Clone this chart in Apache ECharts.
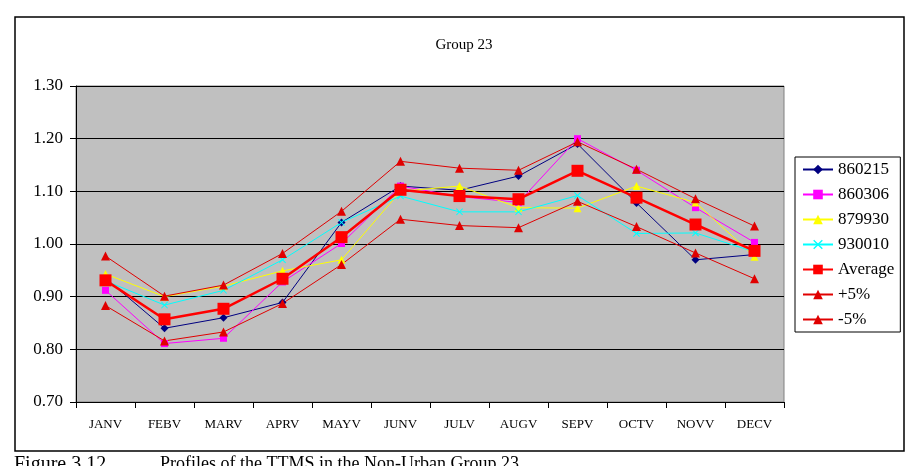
<!DOCTYPE html>
<html>
<head>
<meta charset="utf-8">
<script src="https://cdn.jsdelivr.net/npm/echarts@6/dist/echarts.min.js"></script>
<style>
  html, body { margin: 0; padding: 0; background: #fff; }
  #chart { width: 913px; height: 466px; }
</style>
</head>
<body>
<div id="chart"></div>
<script>
// 月份
const months = ['JANV', 'FEBV', 'MARV', 'APRV', 'MAYV', 'JUNV', 'JULV', 'AUGV', 'SEPV', 'OCTV', 'NOVV', 'DECV'];

// 各站点数据
const s860215 = [0.935, 0.840, 0.860, 0.889, 1.041, 1.110, 1.102, 1.129, 1.190, 1.078, 0.970, 0.980];
const s860306 = [0.912, 0.811, 0.821, 0.928, 1.001, 1.110, 1.090, 1.079, 1.200, 1.140, 1.069, 1.003];
const s879930 = [0.943, 0.900, 0.920, 0.949, 0.970, 1.100, 1.110, 1.069, 1.068, 1.110, 1.079, 0.976];
const s930010 = [0.930, 0.884, 0.912, 0.970, 1.041, 1.091, 1.061, 1.061, 1.092, 1.020, 1.021, 0.985];
const average = [0.931, 0.857, 0.877, 0.934, 1.013, 1.103, 1.091, 1.085, 1.139, 1.088, 1.037, 0.987];
const plus5   = [0.977, 0.901, 0.922, 0.982, 1.062, 1.157, 1.144, 1.140, 1.194, 1.142, 1.086, 1.034];
const minus5  = [0.883, 0.816, 0.833, 0.887, 0.961, 1.047, 1.035, 1.031, 1.081, 1.033, 0.983, 0.934];

const yTicks = { min: 0.7, max: 1.3, step: 0.1 };

const serif = 'Liberation Serif';
const crossPath = 'path://M0,1L1,0L5,4L9,0L10,1L6,5L10,9L9,10L5,6L1,10L0,9L4,5Z';

function thinLine(name, data, color, symbol, size) {
    return {
        name: name,
        type: 'line',
        data: data,
        symbol: symbol,
        symbolSize: size,
        lineStyle: { color: color, width: 1 },
        itemStyle: { color: color },
        animation: false
    };
}

let myChart = echarts.init(document.getElementById('chart'));
let option = {
    backgroundColor: '#fff',
    title: {
        text: 'Group 23',
        left: 459,
        top: 33,
        textAlign: 'center',
        textStyle: { fontFamily: serif, fontSize: 15, fontWeight: 'normal', color: '#000' }
    },
    legend: {
        orient: 'vertical',
        left: 795,
        top: 157,
        backgroundColor: '#fff',
        borderColor: '#000',
        borderWidth: 1,
        borderRadius: 0,
        padding: [4, 6, 4, 7],
        itemWidth: 30,
        itemHeight: 12,
        itemGap: 8,
        textStyle: { fontFamily: serif, fontSize: 17, color: '#000' },
        data: ['860215', '860306', '879930', '930010', 'Average', '+5%', '-5%']
    },
    grid: {
        left: 76,
        top: 86,
        right: 129,
        bottom: 64,
        show: true,
        backgroundColor: '#C0C0C0',
        borderColor: '#808080',
        borderWidth: 1
    },
    xAxis: {
        type: 'category',
        data: months,
        boundaryGap: true,
        axisLine: { lineStyle: { color: '#000', width: 1 } },
        axisTick: { show: true, length: 6, lineStyle: { color: '#000' } },
        axisLabel: { fontFamily: serif, fontSize: 13, color: '#000', margin: 16 }
    },
    yAxis: {
        type: 'value',
        min: yTicks.min,
        max: yTicks.max,
        interval: yTicks.step,
        axisLine: { show: true, lineStyle: { color: '#000', width: 1 } },
        axisTick: { show: true, length: 6, lineStyle: { color: '#000' } },
        splitLine: { show: true, lineStyle: { color: '#000', width: 1 } },
        axisLabel: {
            fontFamily: serif,
            fontSize: 17,
            color: '#000',
            margin: 13,
            formatter: v => v.toFixed(2)
        }
    },
    series: [
        thinLine('860215', s860215, '#000080', 'diamond', 8),
        thinLine('860306', s860306, '#FF00FF', 'rect', 7),
        thinLine('879930', s879930, '#FFFF00', 'triangle', 8),
        thinLine('930010', s930010, '#00FFFF', crossPath, 7),
        {
            name: 'Average',
            type: 'line',
            data: average,
            symbol: 'rect',
            symbolSize: 12,
            lineStyle: { color: '#FF0000', width: 2.5 },
            itemStyle: { color: '#FF0000' },
            animation: false
        },
        thinLine('+5%', plus5, '#E00000', 'triangle', 9),
        thinLine('-5%', minus5, '#E00000', 'triangle', 9)
    ],
    graphic: [
        {
            type: 'rect',
            shape: { x: 15, y: 17, width: 889, height: 434 },
            style: { fill: 'none', stroke: '#000', lineWidth: 1.5 },
            silent: true
        },
        {
            type: 'text',
            left: 14,
            top: 455,
            style: { text: 'Figure 3.12', font: '20px "Liberation Serif"', fill: '#000' },
            silent: true
        },
        {
            type: 'text',
            left: 160,
            top: 455,
            style: {
                text: 'Profiles of the TTMS in the Non-Urban Group 23',
                font: '18px "Liberation Serif"',
                fill: '#000'
            },
            silent: true
        }
    ]
};
myChart.setOption(option);
</script>
</body>
</html>
